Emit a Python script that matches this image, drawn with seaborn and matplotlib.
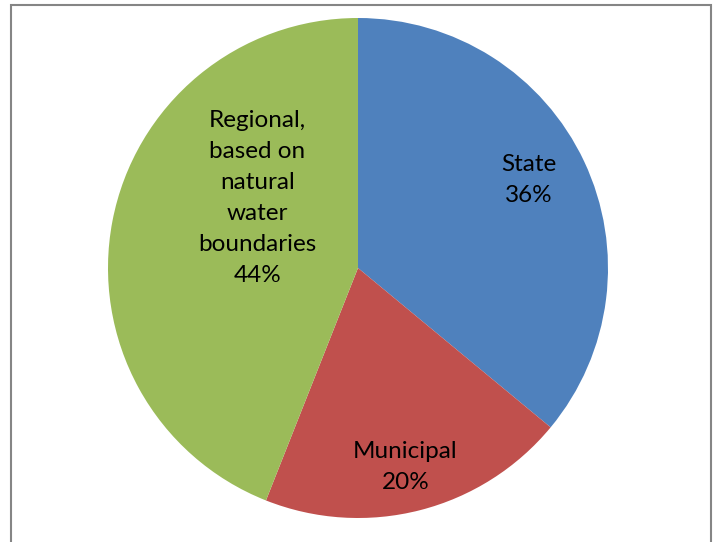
import numpy as np
import matplotlib
matplotlib.use('Agg')
import matplotlib.pyplot as plt
import seaborn as sns
from matplotlib.patches import Rectangle

# Data
categories = ['State', 'Municipal', 'Regional,\nbased on\nnatural\nwater\nboundaries']
shares = [36, 20, 44]
colors = ['#4F81BD', '#C0504D', '#9BBB59']

# label placement (radius as fraction of pie radius, angle tweak in degrees)
label_radius = [0.77, 0.82, 0.49]
label_shift = [2, -1, -24]

sns.set_style('white')
plt.rcParams['font.family'] = ['Lato', 'DejaVu Sans']

fig = plt.figure(figsize=(7.16, 5.42), dpi=100)
ax = fig.add_axes([108 / 716, 24 / 542, 500 / 716, 500 / 542])

wedges, _ = ax.pie(shares, colors=colors, startangle=90, counterclock=False,
                   radius=1, wedgeprops=dict(linewidth=0))

for w, name, val, r, shift in zip(wedges, categories, shares, label_radius, label_shift):
    ang = np.deg2rad((w.theta1 + w.theta2) / 2 + shift)
    ax.text(r * np.cos(ang), r * np.sin(ang), f'{name}\n{val}%',
            ha='center', va='center', fontsize=17.5, color='black', linespacing=1.58)

ax.set_xlim(-1, 1)
ax.set_ylim(-1, 1)
ax.set_aspect('equal')
ax.axis('off')

# chart frame
fig.add_artist(Rectangle((10.5 / 716, -0.1), 700.5 / 716, 1.1 - 4.5 / 542,
                         transform=fig.transFigure, fill=False,
                         edgecolor='#858585', linewidth=1.5))

fig.savefig('out.png', dpi=100)
